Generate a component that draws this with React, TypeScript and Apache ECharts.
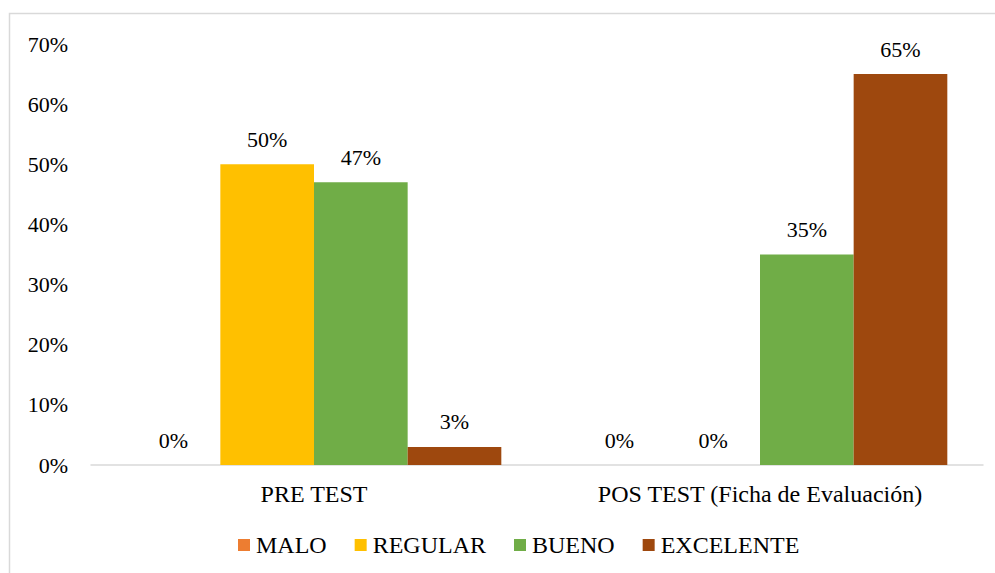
import React, { useEffect, useRef } from "react";
import * as echarts from "echarts";

const categories = ["PRE TEST", "POS TEST (Ficha de Evaluación)"];
const seriesNames = ["MALO", "REGULAR", "BUENO", "EXCELENTE"];
const malo = [0, 0];
const regular = [50, 0];
const bueno = [47, 35];
const excelente = [3, 65];
const colors = ["#ED7D31", "#FFC000", "#70AD47", "#9E480E"];

const FONT = "Times New Roman, Liberation Serif, serif";

export default function App() {
  const ref = useRef<HTMLDivElement>(null);
  useEffect(() => {
    if (!ref.current) return;
    const chart = echarts.init(ref.current, undefined, { renderer: "svg" });
    const values = [malo, regular, bueno, excelente];
    chart.setOption({
      animation: false,
      backgroundColor: "#ffffff",
      textStyle: { fontFamily: FONT, color: "#000" },
      graphic: [
        {
          type: "rect",
          shape: { x: 9.5, y: 13.5, width: 1000, height: 600 },
          style: { fill: "none", stroke: "#d9d9d9", lineWidth: 1.5 },
          silent: true,
        },
      ],
      grid: { left: 91, right: 12, top: 44, bottom: 108, containLabel: false },
      legend: {
        left: 238,
        top: 533,
        padding: 0,
        itemWidth: 12,
        itemHeight: 12,
        itemGap: 28,
        icon: "rect",
        data: seriesNames,
        textStyle: { fontFamily: FONT, fontSize: 24, color: "#000", padding: [0, 0, 0, 1] },
      },
      xAxis: {
        type: "category",
        data: categories,
        axisLine: { show: true, lineStyle: { color: "#d9d9d9", width: 1.5 } },
        axisTick: { show: false },
        axisLabel: { fontFamily: FONT, fontSize: 24, color: "#000", margin: 17 },
      },
      yAxis: {
        type: "value",
        min: 0,
        max: 70,
        interval: 10,
        axisLine: { show: false },
        axisTick: { show: false },
        splitLine: { show: false },
        axisLabel: {
          formatter: "{value}%",
          fontFamily: FONT,
          fontSize: 22,
          color: "#000",
          margin: 23,
        },
      },
      series: seriesNames.map((name, i) => ({
        name,
        type: "bar",
        data: values[i],
        barGap: "0%",
        barCategoryGap: "16%",
        itemStyle: { color: colors[i] },
        label: {
          show: true,
          position: "top",
          distance: 14,
          formatter: "{c}%",
          fontFamily: FONT,
          fontSize: 22,
          color: "#000",
        },
      })),
    });
    return () => chart.dispose();
  }, []);
  return (
    <div
      ref={ref}
      style={{ position: "fixed", left: 0, top: 0, width: 995, height: 573 }}
    />
  );
}
